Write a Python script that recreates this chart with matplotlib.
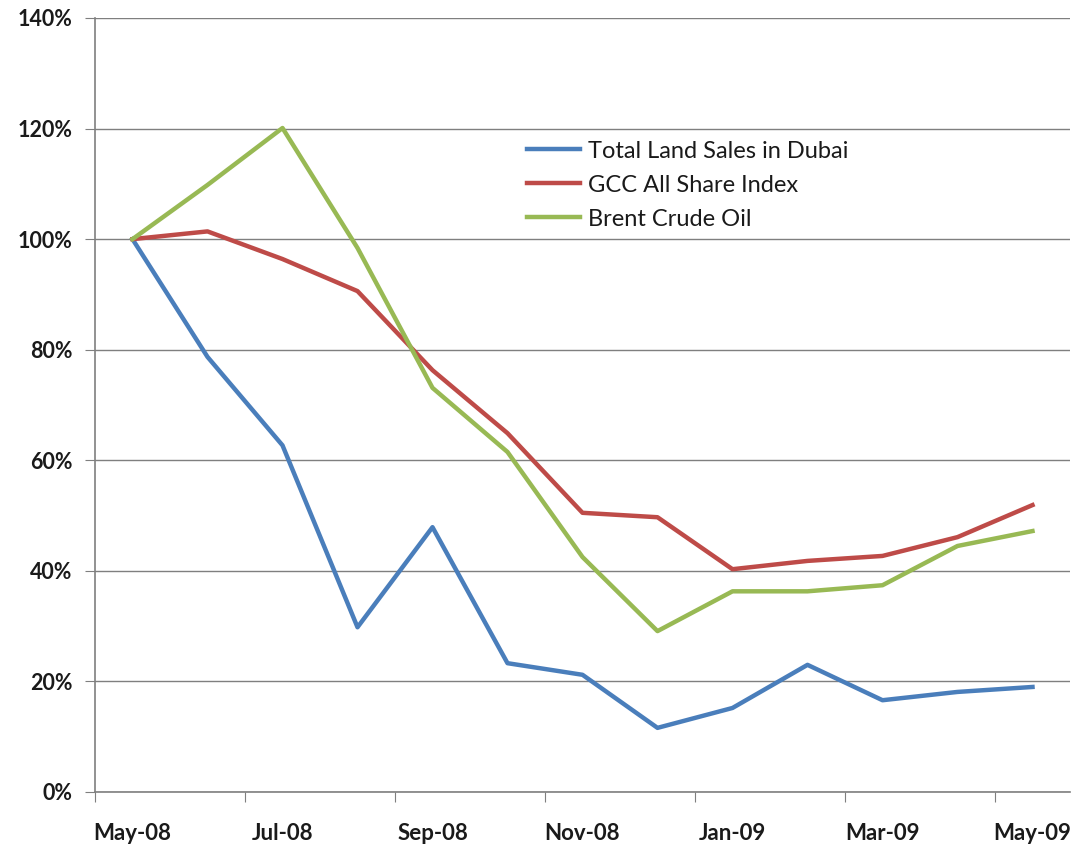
import numpy as np
import matplotlib.pyplot as plt
from matplotlib.ticker import FixedLocator, FuncFormatter

plt.rcParams['font.family'] = ['Lato', 'DejaVu Sans']

months = ['May-08', 'Jun-08', 'Jul-08', 'Aug-08', 'Sep-08', 'Oct-08', 'Nov-08',
          'Dec-08', 'Jan-09', 'Feb-09', 'Mar-09', 'Apr-09', 'May-09']
land_sales = [100, 78.7, 62.7, 29.8, 47.9, 23.3, 21.2, 11.6, 15.2, 23.0, 16.6, 18.1, 19.0]
gcc_index = [100, 101.4, 96.4, 90.6, 76.3, 64.9, 50.5, 49.7, 40.3, 41.8, 42.7, 46.1, 51.9]
brent_oil = [100, 109.8, 120.1, 98.4, 73.1, 61.5, 42.5, 29.1, 36.3, 36.3, 37.4, 44.5, 47.2]

fig = plt.figure(figsize=(10.75, 8.52), dpi=100)
ax = fig.add_axes([95 / 1075, 60 / 852, 975 / 1075, 774 / 852])

x = np.arange(len(months))
ax.plot(x, land_sales, color='#4A7EBB', lw=3.2, label='Total Land Sales in Dubai')
ax.plot(x, gcc_index, color='#BE4B48', lw=3.2, label='GCC All Share Index')
ax.plot(x, brent_oil, color='#98B954', lw=3.2, label='Brent Crude Oil')

ax.set_xlim(-0.5, len(months) - 0.5)
ax.set_ylim(0, 140)
ax.set_yticks(np.arange(0, 141, 20))
ax.yaxis.set_major_formatter(FuncFormatter(lambda v, p: f'{v:.0f}%'))
ax.yaxis.grid(True, color='#7f7f7f', lw=1)
ax.set_axisbelow(True)

# tick marks sit on category boundaries, labels on every second month
ax.xaxis.set_major_locator(FixedLocator(np.arange(-0.5, len(months), 2)))
ax.xaxis.set_minor_locator(FixedLocator(x[::2]))
ax.set_xticklabels([], minor=False)
ax.set_xticklabels(months[::2], minor=True)
ax.tick_params(axis='x', which='major', length=7, direction='out', color='#7f7f7f')
ax.tick_params(axis='x', which='minor', length=0, pad=22, labelsize=16)
ax.tick_params(axis='y', length=7, color='#7f7f7f', pad=9, labelsize=15.5)
for lbl in ax.get_xticklabels(minor=True) + ax.get_yticklabels():
    lbl.set_fontweight('bold')
    lbl.set_color('#1a1a1a')

for side in ['top', 'right']:
    ax.spines[side].set_visible(False)
for side in ['left', 'bottom']:
    ax.spines[side].set_color('#7f7f7f')
    ax.spines[side].set_linewidth(1.2)

leg = ax.legend(loc='center left', bbox_to_anchor=(0.443, 0.784), frameon=False,
                fontsize=17, handlelength=2.25, handletextpad=0.35, labelspacing=0.55,
                borderpad=0, borderaxespad=0)
for t in leg.get_texts():
    t.set_color('#1a1a1a')

fig.savefig('out.png', dpi=100)
